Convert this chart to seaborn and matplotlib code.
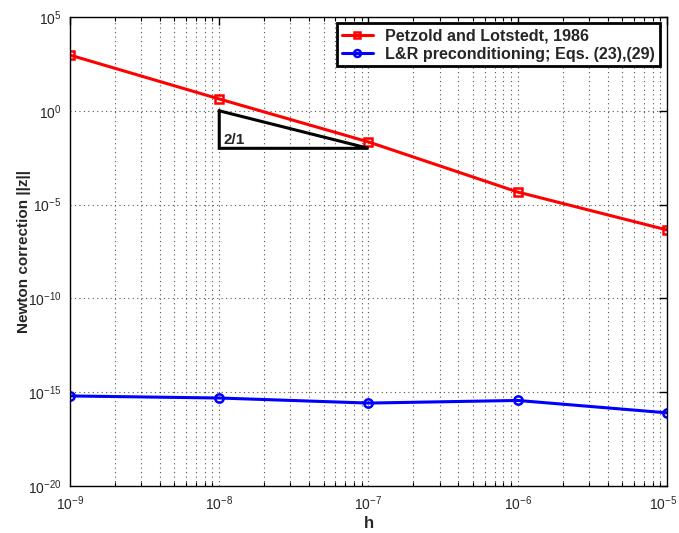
import numpy as np
import pandas as pd
import matplotlib
matplotlib.use("Agg")
import matplotlib.pyplot as plt
import matplotlib.transforms as mtransforms
import seaborn as sns
from matplotlib.ticker import LogLocator, FixedLocator, NullFormatter

# Step sizes and Newton correction norms
h = [1e-9, 1e-8, 1e-7, 1e-6, 1e-5]
petzold = [10**2.97, 10**0.63, 10**-1.66, 10**-4.33, 10**-6.35]
lr_precond = [10**-15.2, 10**-15.31, 10**-15.58, 10**-15.44, 10**-16.1]
series_names = ["Petzold and Lotstedt, 1986", "L&R preconditioning; Eqs. (23),(29)"]
y_ticks = [1e-20, 1e-15, 1e-10, 1e-5, 1e0, 1e5]
x_ticks = [1e-9, 1e-8, 1e-7, 1e-6, 1e-5]

# Slope triangle: legs from (1e-8, 1e0) down to 1e-2 and across to 1e-7
tri_x = [1e-8, 1e-8, 1e-7, 1e-8]
tri_y = [1e0, 1e-2, 1e-2, 1e0]
slope_label = "2/1"

df = pd.DataFrame({
    "h": h * 2,
    "z": petzold + lr_precond,
    "series": [series_names[0]] * len(h) + [series_names[1]] * len(h),
})

sns.set_style("white")
plt.rcParams["font.family"] = ["Liberation Sans", "DejaVu Sans"]

fig = plt.figure(figsize=(6.79, 5.33), dpi=100)
ax = fig.add_axes([0.1031, 0.0882, 0.8792, 0.8799])

sns.lineplot(
    data=df, x="h", y="z", hue="series", style="series",
    palette={series_names[0]: "#ff0000", series_names[1]: "#0000ff"},
    markers={series_names[0]: "s", series_names[1]: "o"},
    dashes=False, linewidth=2.2, markersize=6, markeredgewidth=1.8,
    ax=ax, legend=True,
)
for line in ax.get_lines():
    line.set_markerfacecolor("none")
    line.set_markeredgecolor(line.get_color())

ax.plot(tri_x, tri_y, color="black", linewidth=2.2, solid_joinstyle="miter")
ax.text(1.06e-8, 1.15e-2, slope_label, fontsize=11, fontweight="bold", ha="left", va="bottom")

ax.set_xscale("log")
ax.set_yscale("log")
ax.set_xlim(1e-9, 1e-5)
ax.set_ylim(1e-20, 1e5)

ax.xaxis.set_major_locator(FixedLocator(x_ticks))
ax.xaxis.set_minor_locator(LogLocator(base=10, subs=np.arange(2, 10), numticks=100))
ax.xaxis.set_minor_formatter(NullFormatter())
ax.yaxis.set_major_locator(FixedLocator(y_ticks))
ax.yaxis.set_minor_locator(FixedLocator([]))

ax.tick_params(axis="both", which="major", direction="in", length=6, width=1,
               labelsize=10, pad=6, top=True, right=True, color="black")
ax.tick_params(axis="x", which="minor", direction="in", length=3, width=0.8,
               top=True, bottom=True, color="black")

ax.grid(True, which="major", axis="both", linestyle=(0, (1, 3)), color="#555555", linewidth=0.8)
ax.grid(True, which="minor", axis="x", linestyle=(0, (1, 3)), color="#555555", linewidth=0.8)

for s in ax.spines.values():
    s.set_visible(True)
    s.set_color("black")
    s.set_linewidth(1.0)

ax.set_xlabel("h", fontsize=12, fontweight="bold", labelpad=2)
ax.set_ylabel("Newton correction ||z||", fontsize=11, fontweight="bold", labelpad=-2)

leg = ax.legend(loc="upper right", bbox_to_anchor=(0.9965, 0.9965),
                prop={"weight": "bold", "size": 11.6}, frameon=True, fancybox=False,
                handlelength=1.9, borderpad=0.3, labelspacing=0.2, handletextpad=0.8,
                borderaxespad=0.3)
leg.get_frame().set_edgecolor("black")
leg.get_frame().set_linewidth(2.0)
leg.get_frame().set_facecolor("white")
leg.get_frame().set_alpha(1.0)
for lh in leg.get_lines():
    lh.set_markerfacecolor("none")
    lh.set_markersize(5)
    lh.set_linewidth(2.2)

# nudge the rightmost x tick label inward so it stays on the canvas
fig.canvas.draw()
last = ax.xaxis.get_major_ticks()[-1].label1
last.set_transform(last.get_transform() + mtransforms.ScaledTranslation(-4 / 100, 0, fig.dpi_scale_trans))

fig.savefig("out.png", dpi=100)
